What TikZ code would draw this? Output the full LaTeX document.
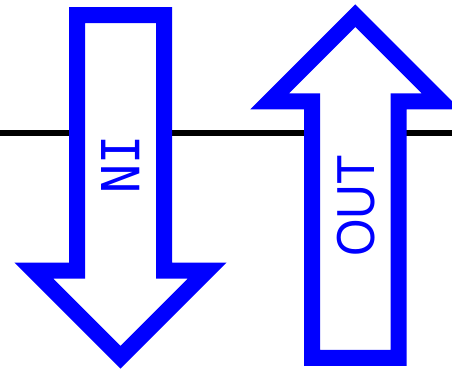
\documentclass[tikz,border=0pt]{standalone}
\usepackage{fontspec}
\newfontfamily\monofont{DejaVu Sans Mono}
\newfontfamily\sansfont{Liberation Sans}
\definecolor{flowblue}{RGB}{0,0,255}
\begin{document}
\begin{tikzpicture}[x=1pt,y=-1pt,
  blockarrow/.style={draw=flowblue,fill=white,line width=16pt,line join=miter},
  arrowlabel/.style={text=flowblue,inner sep=0pt,anchor=center}]
\useasboundingbox (0,0) rectangle (452,370);
% horizontal rule behind the arrows
\draw[line width=6pt,black] (0,133) -- (452,133);
% downward arrow
\draw[blockarrow] (77,15) -- (164,15) -- (164,270.5) -- (207.3,270.5)
  -- (120.5,357.3) -- (33.7,270.5) -- (77,270.5) -- cycle;
% upward arrow
\draw[blockarrow] (312,357.8) -- (398.7,357.8) -- (398.7,101.3) -- (440.9,101.3)
  -- (355.3,15.7) -- (269.7,101.3) -- (312,101.3) -- cycle;
% labels
\node[arrowlabel,rotate=-90] (inlabel) at (120.2,164.7)
  {\fontsize{52.5}{60}\monofont\scalebox{0.92}[1]{IN}};
\node[arrowlabel,rotate=90] (outlabel) at (355.8,205.8)
  {\fontsize{53.5}{60}\sansfont\scalebox{0.9}[1]{OUT}};
\end{tikzpicture}
\end{document}
